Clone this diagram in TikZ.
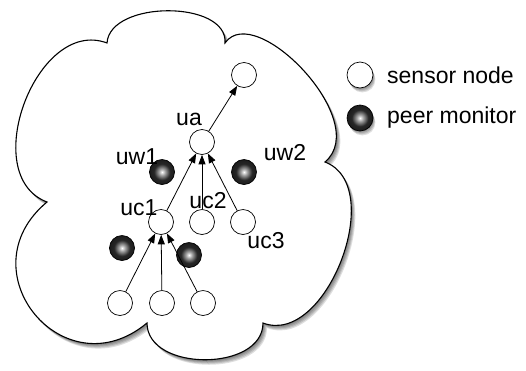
\documentclass[tikz,border=0pt]{standalone}
\usepackage{fontspec}
\setmainfont{Liberation Sans}
\usetikzlibrary{arrows.meta}
\pgfdeclareradialshading{pmshade}{\pgfpoint{0bp}{0bp}}{color(0bp)=(white); color(6bp)=(black!35); color(16bp)=(black!85); color(50bp)=(black)}
\tikzset{
  snode/.style={circle, draw=black, line width=0.7pt, fill=white, minimum size=25pt, inner sep=0pt},
  pmon/.style={circle, draw=black, line width=0.7pt, shading=pmshade, minimum size=25pt, inner sep=0pt},
  lbl/.style={font=\fontsize{23}{27}\selectfont, inner sep=0pt},
  arr/.style={-{Triangle[length=9.5pt,width=7pt]}, line width=0.8pt},
  shadowcopy/.style={fill=black, opacity=0.13},
}
\newcommand{\cloudoutline}{(107,43) .. controls (110,0) and (228,0) .. (225,43)
  .. controls (255,0) and (373,121.5) .. (325,162)
  .. controls (388,186) and (326,347) .. (263,323)
  .. controls (263,372) and (147,372) .. (147,323)
  .. controls (64,392) and (-36,271) .. (47,202)
  .. controls (-23,175.5) and (37,16.5) .. (107,43) -- cycle}
\begin{document}
\begin{tikzpicture}[x=1pt,y=-1pt]
\useasboundingbox (0,0) rectangle (526,370);
% shadow
\foreach \s in {1,2,3,4,5} {
  \path[shadowcopy, shift={(\s*0.8,\s)}] \cloudoutline;
}
\path[fill=white, draw=black, line width=1.1pt] \cloudoutline;
% legend shadows
\foreach \s in {1,2,3,4} {
  \fill[shadowcopy, shift={(\s*0.6,\s*1.1)}] (360,75) circle (13);
  \fill[shadowcopy, shift={(\s*0.6,\s*1.1)}] (360,118) circle (13);
}
% nodes
\node[snode] (top) at (244,75) {};
\node[snode] (ua) at (202,142) {};
\node[snode] (uc1) at (161,222) {};
\node[snode] (uc2) at (202,222) {};
\node[snode] (uc3) at (243,222) {};
\node[snode] (b1) at (120,303) {};
\node[snode] (b2) at (162,303) {};
\node[snode] (b3) at (203,303) {};
\node[pmon] (uw1) at (162,172) {};
\node[pmon] (uw2) at (244,172) {};
\node[pmon] (m3) at (122,248) {};
\node[pmon] (m4) at (189,255) {};
% arrows
\draw[arr] (ua) -- (top);
\draw[arr] (uc1) -- (ua);
\draw[arr] (uc2) -- (ua);
\draw[arr] (uc3) -- (ua);
\draw[arr] (b1) -- (uc1);
\draw[arr] (b2) -- (uc1);
\draw[arr] (b3) -- (uc1);
% labels
\node[lbl] (lua) at (189,119) {ua};
\node[lbl] (luw1) at (137,157) {uw1};
\node[lbl] (luw2) at (285,153) {uw2};
\node[lbl] (luc1) at (139,208) {uc1};
\node[lbl] (luc2) at (208,201) {uc2};
\node[lbl] (luc3) at (266,241) {uc3};
% legend
\node[snode, minimum size=26pt] (legs) at (360,75) {};
\node[pmon, minimum size=26pt] (legp) at (360,118) {};
\node[lbl, anchor=west] (legst) at (387,75) {sensor node};
\node[lbl, anchor=west] (legpt) at (387,118) {peer monitor};
\end{tikzpicture}
\end{document}
